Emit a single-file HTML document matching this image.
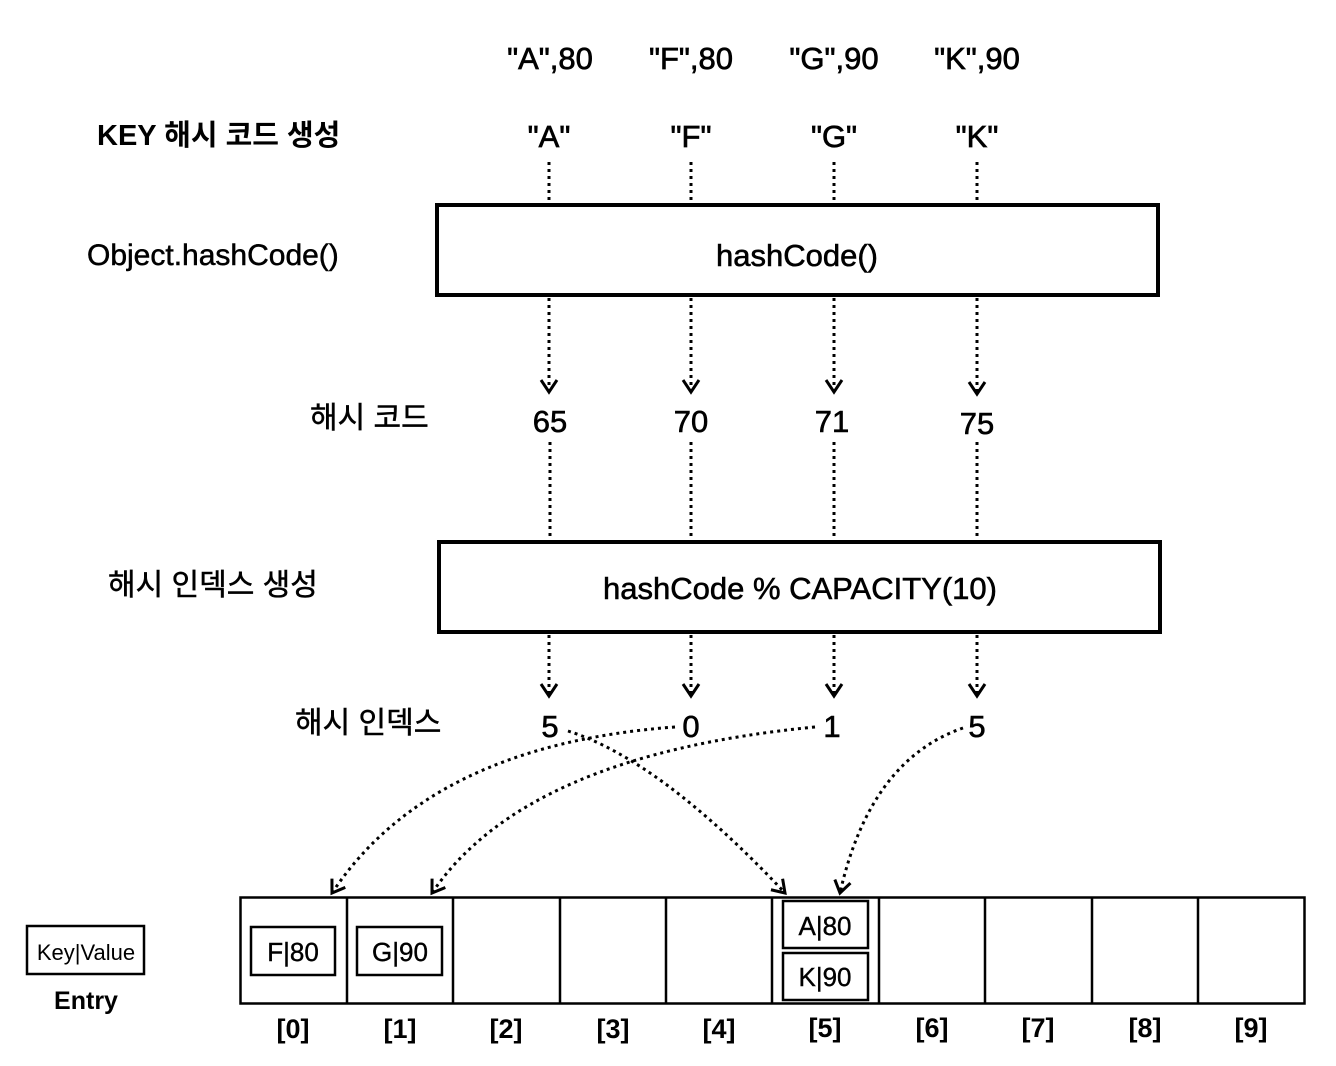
<!DOCTYPE html>
<html><head><meta charset="utf-8"><style>
html,body{margin:0;padding:0;background:#fff;}
svg{display:block;}
text{font-family:"Liberation Sans","Noto Sans CJK KR",sans-serif;fill:#000;}
</style></head><body>
<svg width="1336" height="1066" viewBox="0 0 1336 1066" xmlns="http://www.w3.org/2000/svg">
<defs>
<marker id="ah" markerWidth="20" markerHeight="20" refX="14" refY="10" orient="auto" markerUnits="userSpaceOnUse">
<polyline points="2,2 14,10 2,18" fill="none" stroke="#000" stroke-width="3"/>
</marker>
</defs>
<g font-size="31" text-anchor="middle" stroke="#000" stroke-width="0.7">
<text x="550" y="69">"A",80</text>
<text x="691" y="69">"F",80</text>
<text x="834" y="69">"G",90</text>
<text x="977" y="69">"K",90</text>
<text x="549" y="147">"A"</text>
<text x="691" y="147">"F"</text>
<text x="834" y="147">"G"</text>
<text x="977" y="147">"K"</text>
</g>
<text x="97" y="145" font-size="29" font-weight="bold">KEY 해시 코드 생성</text>
<g font-size="30" stroke="#000" stroke-width="0.5">
<text x="87" y="265">Object.hashCode()</text>
<text x="310" y="428">해시 코드</text>
<text x="108" y="595">해시 인덱스 생성</text>
<text x="295" y="733">해시 인덱스</text>
</g>
<g stroke="#000" stroke-width="3" stroke-dasharray="3 4" fill="none">
<line x1="549" y1="162" x2="549" y2="204"/><line x1="691" y1="162" x2="691" y2="204"/>
<line x1="834" y1="162" x2="834" y2="204"/><line x1="977" y1="162" x2="977" y2="204"/>
<line x1="549" y1="298" x2="549" y2="392" marker-end="url(#ah)"/>
<line x1="691" y1="298" x2="691" y2="392" marker-end="url(#ah)"/>
<line x1="834" y1="298" x2="834" y2="392" marker-end="url(#ah)"/>
<line x1="977" y1="298" x2="977" y2="394" marker-end="url(#ah)"/>
<line x1="550" y1="442" x2="550" y2="541"/><line x1="691" y1="442" x2="691" y2="541"/>
<line x1="834" y1="442" x2="834" y2="541"/><line x1="977" y1="442" x2="977" y2="541"/>
<line x1="549" y1="635" x2="549" y2="696" marker-end="url(#ah)"/>
<line x1="691" y1="635" x2="691" y2="696" marker-end="url(#ah)"/>
<line x1="834" y1="635" x2="834" y2="696" marker-end="url(#ah)"/>
<line x1="977" y1="635" x2="977" y2="696" marker-end="url(#ah)"/>
<path d="M675,727 Q430,745 332,893" marker-end="url(#ah)"/>
<path d="M815,727 Q525,755 432,893" marker-end="url(#ah)"/>
<path d="M568,731 Q660,760 785,893" marker-end="url(#ah)"/>
<path d="M963,728 Q870,760 840,893" marker-end="url(#ah)"/>
</g>
<rect x="437" y="205" width="721" height="90" fill="none" stroke="#000" stroke-width="4"/>
<rect x="439" y="542" width="721" height="90" fill="none" stroke="#000" stroke-width="4"/>
<g font-size="31" text-anchor="middle" stroke="#000" stroke-width="0.6">
<text x="797" y="266">hashCode()</text>
<text x="800" y="599">hashCode % CAPACITY(10)</text>
<text x="550" y="432">65</text><text x="691" y="432">70</text>
<text x="832" y="432">71</text><text x="977" y="434">75</text>
<text x="550" y="737">5</text><text x="691" y="737">0</text>
<text x="832" y="737">1</text><text x="977" y="737">5</text>
</g>
<g fill="none" stroke="#000" stroke-width="2.5">
<rect x="240.5" y="897.5" width="1064" height="106"/>
<line x1="347" y1="897" x2="347" y2="1004"/><line x1="453" y1="897" x2="453" y2="1004"/>
<line x1="560" y1="897" x2="560" y2="1004"/><line x1="666" y1="897" x2="666" y2="1004"/>
<line x1="772" y1="897" x2="772" y2="1004"/><line x1="879" y1="897" x2="879" y2="1004"/>
<line x1="985" y1="897" x2="985" y2="1004"/><line x1="1092" y1="897" x2="1092" y2="1004"/>
<line x1="1198" y1="897" x2="1198" y2="1004"/>
<rect x="251" y="927" width="84" height="48"/>
<rect x="357" y="927" width="85" height="48"/>
<rect x="783" y="901" width="85" height="47"/>
<rect x="783" y="953" width="85" height="47"/>
<rect x="27" y="926" width="117" height="48"/>
</g>
<g font-size="26" text-anchor="middle" stroke="#000" stroke-width="0.4">
<text x="293" y="961">F|80</text><text x="400" y="961">G|90</text>
<text x="825" y="935">A|80</text><text x="825" y="986">K|90</text>
</g>
<text x="86" y="960" font-size="22" text-anchor="middle">Key|Value</text>
<text x="86" y="1009" font-size="25" font-weight="bold" text-anchor="middle">Entry</text>
<g font-size="27" font-weight="bold" text-anchor="middle" fill="#6e6e6e">
<text x="293" y="1038" fill="#6e6e6e">[0]</text><text x="400" y="1038" fill="#6e6e6e">[1]</text>
<text x="506" y="1038" fill="#6e6e6e">[2]</text><text x="613" y="1038" fill="#6e6e6e">[3]</text>
<text x="719" y="1038" fill="#6e6e6e">[4]</text><text x="825" y="1037" fill="#6e6e6e">[5]</text>
<text x="932" y="1037" fill="#6e6e6e">[6]</text><text x="1038" y="1037" fill="#6e6e6e">[7]</text>
<text x="1145" y="1037" fill="#6e6e6e">[8]</text><text x="1251" y="1037" fill="#6e6e6e">[9]</text>
</g>
</svg>
</body></html>
